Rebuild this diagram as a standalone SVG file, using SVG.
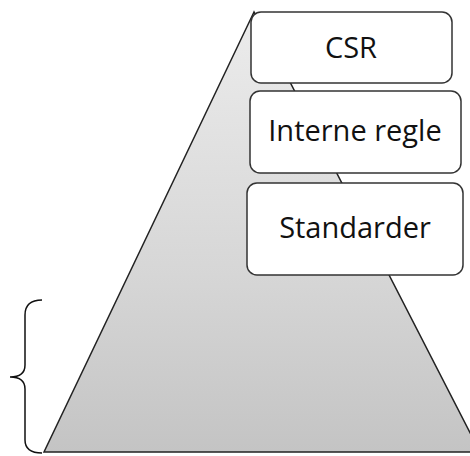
<svg xmlns="http://www.w3.org/2000/svg" width="470" height="456" viewBox="0 0 470 456">
<style>
.box{fill:#fff;stroke:#333;stroke-width:1.5}
.lbl{font-family:"Open Sans","Liberation Sans",sans-serif;font-size:29px;fill:#111;text-anchor:middle}
</style>
<defs>
<linearGradient id="g" x1="0" y1="0" x2="0" y2="1">
<stop offset="0" stop-color="#ececec"/>
<stop offset="0.6" stop-color="#d6d6d6"/>
<stop offset="1" stop-color="#c4c4c4"/>
</linearGradient>
</defs>
<rect width="470" height="456" fill="#fff"/>
<g id="pyramid">
<polygon points="254,12 44,452 480,452" fill="url(#g)" stroke="#222" stroke-width="1.5"/>
</g>
<g id="brace">
<path d="M42,300 Q25,300 25,315 L25,365 Q25,377 10,377 Q25,377 25,389 L25,440 Q25,453 42,453" fill="none" stroke="#111" stroke-width="1.5"/>
</g>
<g id="csr">
<rect class="box" x="251" y="12" width="201" height="71" rx="10"/>
<text class="lbl" x="351" y="58">CSR</text>
</g>
<g id="interne">
<rect class="box" x="250" y="91" width="211" height="82" rx="10"/>
<text class="lbl" x="355" y="141">Interne regle</text>
</g>
<g id="standarder">
<rect class="box" x="247" y="183" width="216" height="92" rx="10"/>
<text class="lbl" x="355" y="238">Standarder</text>
</g>
</svg>
